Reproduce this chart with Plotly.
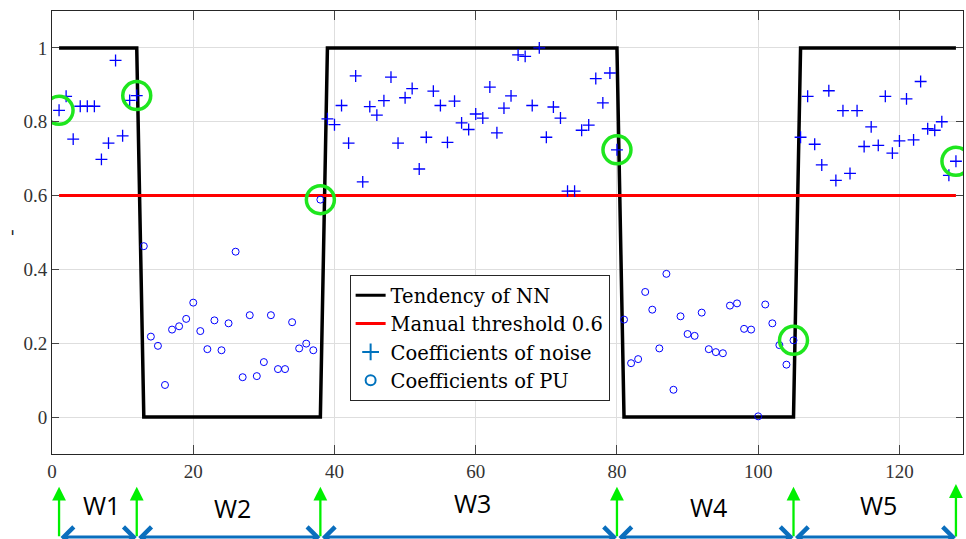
import plotly.graph_objects as go

# ---------------- data ----------------
tendency_x = [1, 12, 13, 38, 39, 80, 81, 105, 106, 128]
tendency_y = [1, 1, 0, 0, 1, 1, 0, 0, 1, 1]

threshold = 0.6
threshold_x = [1, 128]

noise_w1_x = list(range(1, 13))
noise_w1 = [0.831, 0.869, 0.753, 0.842, 0.842, 0.842, 0.698, 0.742, 0.966, 0.762, 0.858, 0.871]

pu_w2_x = list(range(13, 39))
pu_w2 = [0.463, 0.218, 0.193, 0.087, 0.237, 0.246, 0.266, 0.310, 0.233, 0.184, 0.262, 0.181, 0.254,
         0.448, 0.108, 0.276, 0.111, 0.149, 0.276, 0.130, 0.130, 0.257, 0.186, 0.199, 0.181, 0.589]

noise_w3_x = list(range(39, 81))
noise_w3 = [0.808, 0.792, 0.844, 0.742, 0.924, 0.637, 0.841, 0.818, 0.857, 0.921, 0.742, 0.865,
            0.890, 0.672, 0.758, 0.883, 0.844, 0.744, 0.856, 0.797, 0.779, 0.821, 0.810, 0.894,
            0.770, 0.837, 0.870, 0.981, 0.977, 0.844, 1.000, 0.758, 0.840, 0.810, 0.612, 0.612,
            0.777, 0.791, 0.917, 0.851, 0.932, 0.724]

pu_w4_x = list(range(81, 106))
pu_w4 = [0.264, 0.146, 0.157, 0.339, 0.291, 0.186, 0.388, 0.074, 0.273, 0.225, 0.220, 0.283,
         0.184, 0.176, 0.173, 0.302, 0.308, 0.239, 0.237, 0.002, 0.305, 0.254, 0.195, 0.142, 0.208]

noise_w5_x = list(range(106, 129))
noise_w5 = [0.758, 0.869, 0.739, 0.683, 0.884, 0.641, 0.830, 0.660, 0.830, 0.733, 0.786, 0.736,
            0.869, 0.715, 0.748, 0.862, 0.751, 0.909, 0.781, 0.777, 0.800, 0.655, 0.693]

highlight_x = [1, 12, 38, 80, 105, 128]

window_bounds = [1, 12, 38, 80, 105, 128]
window_labels = ["W1", "W2", "W3", "W4", "W5"]

x_ticks = [0, 20, 40, 60, 80, 100, 120]
y_ticks = [0, 0.2, 0.4, 0.6, 0.8, 1]

# ---------------- derived ----------------
noise_x = noise_w1_x + noise_w3_x + noise_w5_x
noise_y = noise_w1 + noise_w3 + noise_w5
pu_x = pu_w2_x + pu_w4_x
pu_y = pu_w2 + pu_w4
all_lookup = dict(zip(noise_x + pu_x, noise_y + pu_y))
highlight_y = [all_lookup[x] for x in highlight_x]

SERIF = "Liberation Serif"
LEG_SERIF = "DejaVu Serif"
BLUE = "#0000ff"
LEG_BLUE = "#0072BD"
GREEN = "#1ee61e"

fig = go.Figure()

fig.add_trace(go.Scatter(x=tendency_x, y=tendency_y, mode="lines",
                         line=dict(color="black", width=3.5), showlegend=False))
fig.add_trace(go.Scatter(x=threshold_x, y=[threshold] * len(threshold_x), mode="lines",
                         line=dict(color="#ff0000", width=3), showlegend=False))
fig.add_trace(go.Scatter(x=noise_x, y=noise_y, mode="markers",
                         marker=dict(symbol="cross-thin", size=8.5, color=BLUE,
                                     line=dict(color=BLUE, width=1.3)),
                         showlegend=False))
fig.add_trace(go.Scatter(x=pu_x, y=pu_y, mode="markers",
                         marker=dict(symbol="circle-open", size=7, color=BLUE,
                                     line=dict(color=BLUE, width=1)),
                         showlegend=False))
fig.add_trace(go.Scatter(x=highlight_x, y=highlight_y, mode="markers",
                         marker=dict(symbol="circle-open", size=28, color=GREEN,
                                     line=dict(color=GREEN, width=3.5)),
                         showlegend=False))

# legend entries
fig.add_trace(go.Scatter(x=[None], y=[None], mode="lines", name="Tendency of NN",
                         line=dict(color="black", width=3)))
fig.add_trace(go.Scatter(x=[None], y=[None], mode="lines", name="Manual threshold 0.6",
                         line=dict(color="#ff0000", width=3)))
fig.add_trace(go.Scatter(x=[None], y=[None], mode="markers", name="Coefficients of noise",
                         marker=dict(symbol="cross-thin", size=12, color=LEG_BLUE,
                                     line=dict(color=LEG_BLUE, width=2))))
fig.add_trace(go.Scatter(x=[None], y=[None], mode="markers", name="Coefficients of PU",
                         marker=dict(symbol="circle-open", size=10, color=LEG_BLUE,
                                     line=dict(color=LEG_BLUE, width=2))))

annotations = []
# green vertical arrows
for i, b in enumerate(window_bounds):
    last = i == len(window_bounds) - 1
    annotations.append(dict(x=b, y=-0.068 if last else -0.074,
                            xref="x", yref="paper", text="", showarrow=True,
                            ax=0, ay=54 if last else 51,
                            axref="pixel", ayref="pixel",
                            arrowhead=2, arrowsize=1.2, arrowwidth=2.3, arrowcolor="#00f000"))
# blue double arrows
for a, b in zip(window_bounds[:-1], window_bounds[1:]):
    annotations.append(dict(x=b, y=-0.1874, xref="x", yref="paper", text="",
                            showarrow=True, ax=a, ay=0, axref="x", ayref="pixel",
                            arrowhead=4, startarrowhead=4, arrowside="end+start",
                            arrowsize=1.3, startarrowsize=1.3,
                            arrowwidth=3, arrowcolor="#0a6ebd"))
# window labels
label_y = [-0.115, -0.122, -0.111, -0.120, -0.115]
for (a, b), lab, ly in zip(zip(window_bounds[:-1], window_bounds[1:]), window_labels, label_y):
    annotations.append(dict(x=(a + b) / 2 + 0.5, y=ly, xref="x", yref="paper", text=lab,
                            showarrow=False, xanchor="center", yanchor="middle",
                            font=dict(family="Open Sans", size=25, color="black")))

fig.update_layout(
    width=966, height=539,
    margin=dict(l=52, r=3, t=11, b=85),
    plot_bgcolor="white", paper_bgcolor="white",
    font=dict(family=SERIF, size=19, color="#262626"),
    showlegend=True,
    legend=dict(x=0.3267, y=0.404, xanchor="left", yanchor="top",
                bgcolor="white", bordercolor="#262626", borderwidth=1,
                font=dict(family=LEG_SERIF, size=19.5, color="black"),
                itemwidth=30, tracegroupgap=0),
    annotations=annotations,
)
fig.update_xaxes(range=[0, 129], tickvals=x_ticks, ticks="inside", ticklen=9,
                 showline=True, linecolor="#262626", linewidth=1, mirror="ticks",
                 showgrid=True, gridcolor="#dedede", gridwidth=1, zeroline=False,
                 automargin=False,
                 tickfont=dict(family=SERIF, size=19, color="#333333"))
fig.update_yaxes(range=[-0.1, 1.1], tickvals=y_ticks, ticks="inside", ticklen=7,
                 showline=True, linecolor="#262626", linewidth=1, mirror="ticks",
                 showgrid=True, gridcolor="#dedede", gridwidth=1, zeroline=False,
                 automargin=False,
                 title=dict(text="-", standoff=12, font=dict(family=SERIF, size=19)),
                 tickfont=dict(family=SERIF, size=19, color="#333333"))

fig.write_html("out.html")
